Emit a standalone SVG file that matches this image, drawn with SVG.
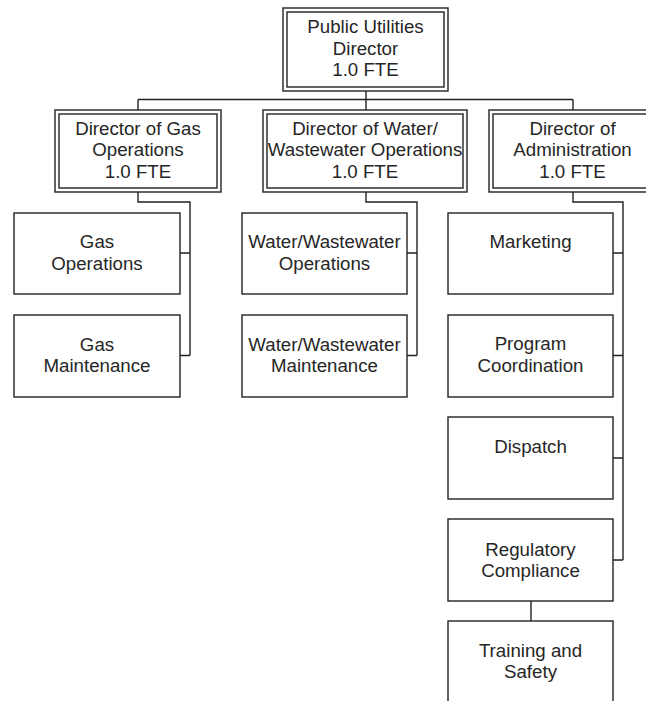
<svg xmlns="http://www.w3.org/2000/svg" width="646" height="701" viewBox="0 0 646 701">
  <style>
    .box { fill: #ffffff; stroke: #222222; stroke-width: 1.4; }
    .wire { fill: none; stroke: #222222; stroke-width: 1.4; }
    .lbl { font-family: "Liberation Sans", Arial, sans-serif; font-size: 18.7px; fill: #262626; text-anchor: middle; }
  </style>
  <rect width="646" height="701" fill="#ffffff"/>

  <!-- connectors -->
  <g id="connectors" class="wire">
    <path d="M366,91 V99.5 M138,99.5 H573 M138,99.5 V110 M366,99.5 V110 M573,99.5 V110"/>
    <path d="M138,192 V202 H190 V355.5 M180,253 H190 M180,355.5 H190"/>
    <path d="M366,192 V202 H417 V355.5 M407,253 H417 M407,355.5 H417"/>
    <path d="M573,192 V202 H623 V560 M613,253 H623 M613,355.5 H623 M613,458 H623 M613,560 H623"/>
    <path d="M531,601 V621"/>
  </g>

  <!-- head of department -->
  <g id="public-utilities-director">
    <rect class="box" x="283" y="8" width="165" height="83"/>
    <rect class="box" x="287" y="12" width="157" height="75"/>
    <text class="lbl" x="365.5" y="33">Public Utilities</text>
    <text class="lbl" x="365.5" y="55">Director</text>
    <text class="lbl" x="365.5" y="76">1.0 FTE</text>
  </g>

  <!-- directors -->
  <g id="director-gas">
    <rect class="box" x="55" y="110" width="166" height="82"/>
    <rect class="box" x="59" y="114" width="158" height="74"/>
    <text class="lbl" x="138" y="135">Director of Gas</text>
    <text class="lbl" x="138" y="156">Operations</text>
    <text class="lbl" x="138" y="178">1.0 FTE</text>
  </g>
  <g id="director-water">
    <rect class="box" x="263" y="110" width="204" height="82"/>
    <rect class="box" x="267" y="114" width="196" height="74"/>
    <text class="lbl" x="365" y="135">Director of Water/</text>
    <text class="lbl" x="365" y="156">Wastewater Operations</text>
    <text class="lbl" x="365" y="178">1.0 FTE</text>
  </g>
  <g id="director-admin">
    <rect class="box" x="489" y="110" width="168" height="82"/>
    <rect class="box" x="493" y="114" width="160" height="74"/>
    <text class="lbl" x="572.5" y="135">Director of</text>
    <text class="lbl" x="572.5" y="156">Administration</text>
    <text class="lbl" x="572.5" y="178">1.0 FTE</text>
  </g>

  <!-- gas units -->
  <g id="gas-operations">
    <rect class="box" x="14" y="213" width="166" height="81"/>
    <text class="lbl" x="97" y="248">Gas</text>
    <text class="lbl" x="97" y="270">Operations</text>
  </g>
  <g id="gas-maintenance">
    <rect class="box" x="14" y="315" width="166" height="82"/>
    <text class="lbl" x="97" y="351">Gas</text>
    <text class="lbl" x="97" y="372">Maintenance</text>
  </g>

  <!-- water units -->
  <g id="water-operations">
    <rect class="box" x="242" y="213" width="165" height="81"/>
    <text class="lbl" x="324.5" y="248">Water/Wastewater</text>
    <text class="lbl" x="324.5" y="270">Operations</text>
  </g>
  <g id="water-maintenance">
    <rect class="box" x="242" y="315" width="165" height="82"/>
    <text class="lbl" x="324.5" y="351">Water/Wastewater</text>
    <text class="lbl" x="324.5" y="372">Maintenance</text>
  </g>

  <!-- administration units -->
  <g id="marketing">
    <rect class="box" x="448" y="213" width="165" height="81"/>
    <text class="lbl" x="530.5" y="248">Marketing</text>
  </g>
  <g id="program-coordination">
    <rect class="box" x="448" y="315" width="165" height="82"/>
    <text class="lbl" x="530.5" y="350">Program</text>
    <text class="lbl" x="530.5" y="372">Coordination</text>
  </g>
  <g id="dispatch">
    <rect class="box" x="448" y="417" width="165" height="82"/>
    <text class="lbl" x="530.5" y="453">Dispatch</text>
  </g>
  <g id="regulatory-compliance">
    <rect class="box" x="448" y="519" width="165" height="82"/>
    <text class="lbl" x="530.5" y="556">Regulatory</text>
    <text class="lbl" x="530.5" y="577">Compliance</text>
  </g>
  <g id="training-safety">
    <rect class="box" x="448" y="621" width="165" height="90"/>
    <text class="lbl" x="530.5" y="657">Training and</text>
    <text class="lbl" x="530.5" y="678">Safety</text>
  </g>
</svg>
